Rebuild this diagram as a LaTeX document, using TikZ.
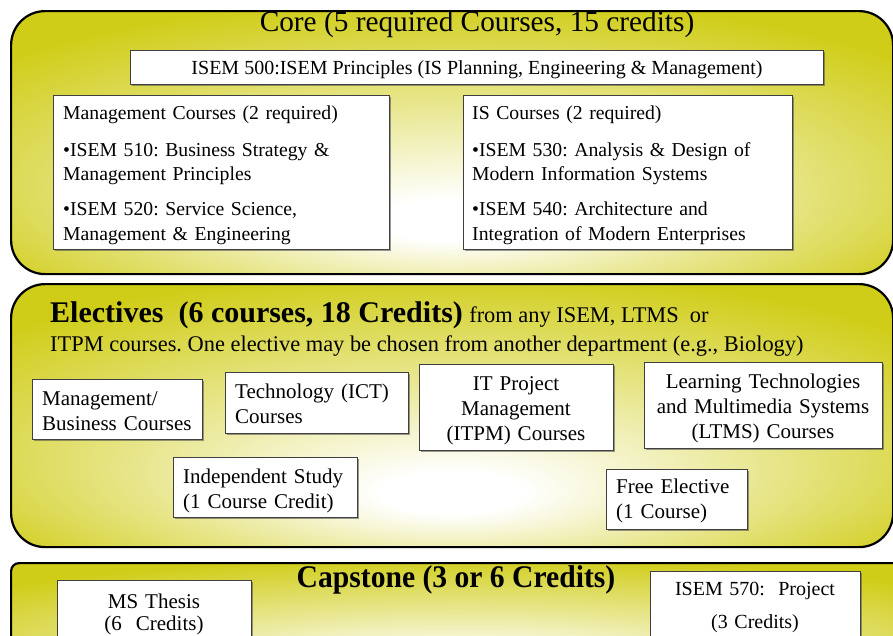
\documentclass[tikz,border=0pt]{standalone}
\usepackage{fontspec}
\setmainfont{Liberation Serif}
\usetikzlibrary{shadows}
\frenchspacing
\definecolor{olivey}{RGB}{208,205,25}
\pgfdeclareradialshading{panelshade}{\pgfpoint{0bp}{-16bp}}{color(0bp)=(white); color(4bp)=(white); color(18bp)=(olivey!50!white); color(33bp)=(olivey); color(50bp)=(olivey)}
\tikzset{
  panelbox/.style={draw=black, line width=2.2pt, shading=panelshade, inner sep=0, anchor=north west},
  cbox/.style={draw=black!75, line width=0.8pt, fill=white, inner sep=0, anchor=north west,
    drop shadow={shadow xshift=1.2pt, shadow yshift=-1.2pt, opacity=0.55, fill=black!70}},
  txt/.style={inner sep=0, anchor=base west, align=left},
  ctxt/.style={inner sep=0, anchor=base, align=center},
  f20/.style={font=\fontsize{19.7}{24.5}\selectfont},
  f21/.style={font=\fontsize{21}{25}\selectfont},
}
\begin{document}
\begin{tikzpicture}[x=1pt,y=-1pt]
\useasboundingbox (0,0) rectangle (893,635);
% panels
\node[panelbox, rounded corners=34pt, minimum width=882, minimum height=263] (core) at (10,10) {};
\node[panelbox, rounded corners=34pt, minimum width=882, minimum height=263] (elec) at (10,283) {};
\node[panelbox, rounded corners=8pt, minimum width=900, minimum height=130] (cap) at (10,562) {};
% core
\node[ctxt, font=\fontsize{29.3}{34}\selectfont] (coret) at (477,31) {Core (5 required Courses, 15 credits)};
\node[cbox, minimum width=693, minimum height=34] (b500) at (130,50) {};
\node[ctxt, font=\fontsize{20}{24}\selectfont] (t500) at (477,74) {ISEM 500:ISEM Principles (IS Planning, Engineering \& Management)};
\node[cbox, minimum width=336, minimum height=154] (bmgmt) at (53,95) {};
\node[txt, f20, text width=320] (tmgmt) at (63,119) {Management Courses (2 required)\\[12.5pt]%
•ISEM 510: Business Strategy \&\\Management Principles\\[10.5pt]%
•ISEM 520: Service Science,\\Management \& Engineering};
\node[cbox, minimum width=329, minimum height=154] (bis) at (463,95) {};
\node[txt, f20, text width=315] (tis) at (472,119) {IS Courses (2 required)\\[12.5pt]%
•ISEM 530: Analysis \& Design of\\Modern Information Systems\\[10.5pt]%
•ISEM 540: Architecture and\\Integration of Modern Enterprises};
% electives
\node[txt, font=\fontsize{30}{34}\selectfont\bfseries] (eh1) at (50,322) {Electives\ \ (6 courses, 18 Credits)};
\node[txt, font=\fontsize{22.4}{26}\selectfont] (eh2) at ([xshift=6pt]eh1.base east) {from any ISEM, LTMS\ \ or};
\node[txt, font=\fontsize{22.4}{26}\selectfont] (eh3) at (50,351) {ITPM courses. One elective may be chosen from another department (e.g., Biology)};
\node[cbox, minimum width=170, minimum height=60] (bmb) at (32,379) {};
\node[txt, f21, text width=160] (tmb) at (42,405) {Management/\\Business Courses};
\node[cbox, minimum width=183, minimum height=61] (btech) at (225,372) {};
\node[txt, f21, text width=170] (ttech) at (235,398) {Technology (ICT)\\Courses};
\node[cbox, minimum width=194, minimum height=86] (bitpm) at (419,364) {};
\node[ctxt, f21, text width=190] (titpm) at (516,390) {IT Project\\Management\\(ITPM) Courses};
\node[cbox, minimum width=238, minimum height=86] (bltms) at (644,362) {};
\node[ctxt, f21, text width=236] (tltms) at (763,388) {Learning Technologies\\and Multimedia Systems\\(LTMS) Courses};
\node[cbox, minimum width=184, minimum height=60] (bind) at (173,457) {};
\node[txt, f21, text width=170] (tind) at (183,483) {Independent Study\\(1 Course Credit)};
\node[cbox, minimum width=141, minimum height=60] (bfree) at (606,469) {};
\node[txt, f21, text width=130] (tfree) at (616,493) {Free Elective\\(1 Course)};
% capstone
\node[ctxt, font=\fontsize{31.5}{34}\selectfont\bfseries] (capt) at (456,587) {\scalebox{0.94}[1]{Capstone (3 or 6 Credits)}};
\node[cbox, minimum width=194, minimum height=110] (bms) at (57,580) {};
\node[ctxt, text width=190, font=\fontsize{21}{22}\selectfont] (tms) at (154,608) {MS Thesis\\(6\ \ Credits)};
\node[cbox, minimum width=210, minimum height=120] (b570) at (650,571) {};
\node[ctxt, text width=206, font=\fontsize{20}{33}\selectfont] (t570) at (755,595) {ISEM 570:\ \ Project\\(3 Credits)};
\end{tikzpicture}
\end{document}
